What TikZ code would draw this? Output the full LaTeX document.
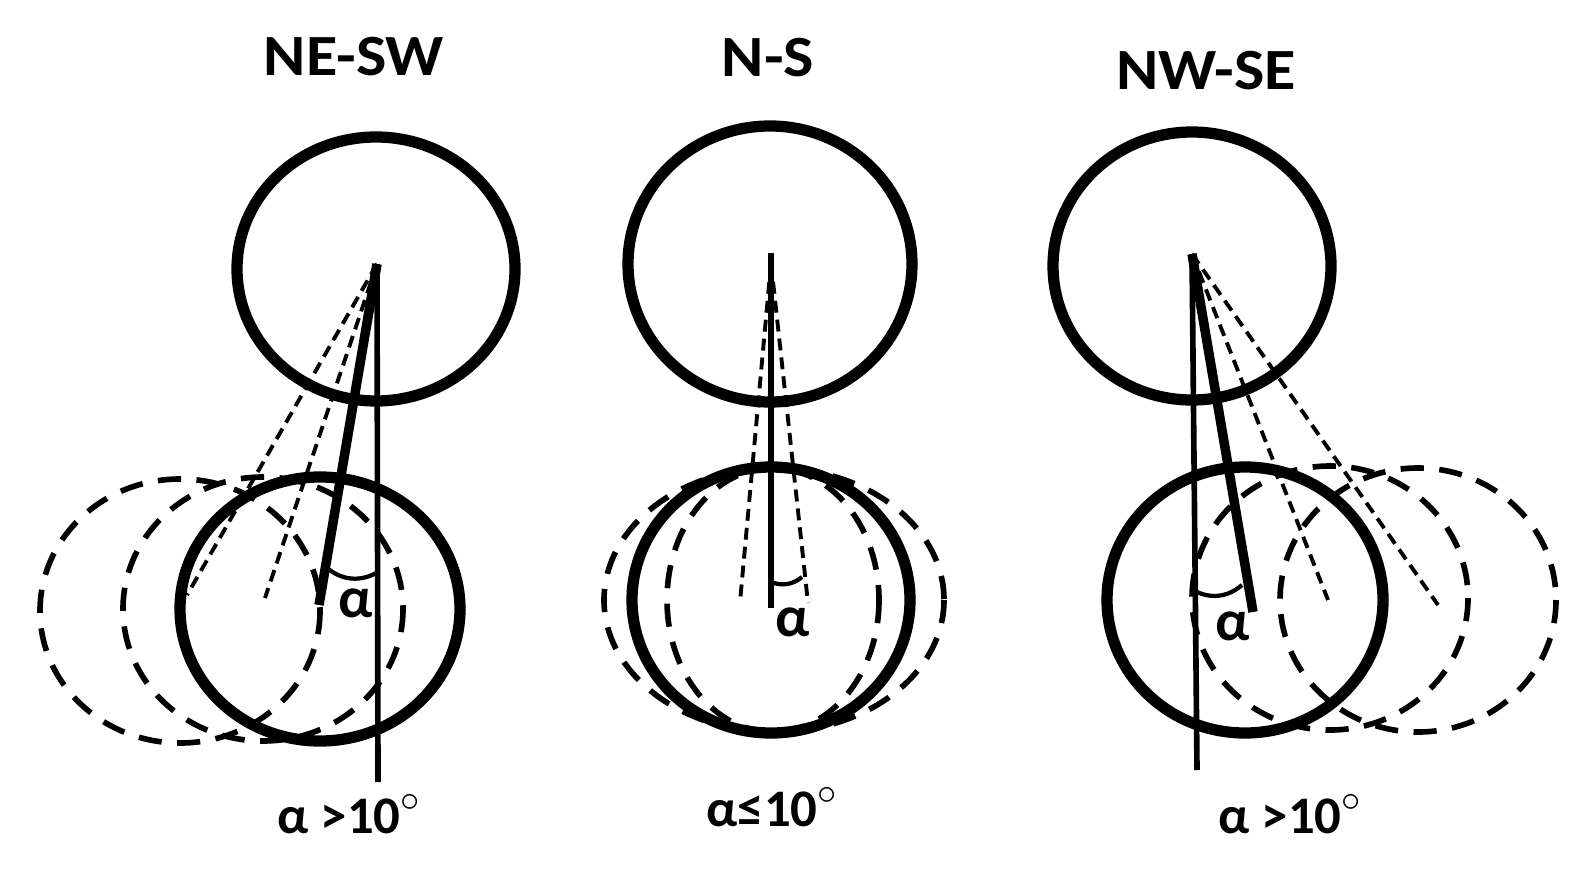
\documentclass[tikz,border=0pt]{standalone}
\usepackage{fontspec}
\setmainfont{Carlito}
\usetikzlibrary{calc}
\tikzset{
  eye/.style    = {line width=3.2pt},
  ghost/.style  = {line width=1.6pt,dash pattern=on 6.6pt off 4.4pt},
  axisline/.style = {line width=1.6pt},
  gaze/.style   = {line width=2.7pt},
  ray/.style    = {line width=1.1pt,dash pattern=on 3.4pt off 2pt},
  angarc/.style = {line width=1.2pt},
  ttl/.style    = {font=\fontsize{16.6}{20}\selectfont\bfseries,inner sep=0pt,
                   xscale=1.1},
  lbl/.style    = {font=\fontsize{15}{18}\selectfont\bfseries,inner sep=0pt},
  alph/.style   = {font=\fontsize{16.5}{18}\selectfont\bfseries,inner sep=0pt},
}
\newcommand{\degr}{\raisebox{1pt}{$^{\circ}$}}

\begin{document}
\begin{tikzpicture}[x=0.01cm,y=-0.01cm]
  \useasboundingbox (0,0) rectangle (1592,876);

  % titles
  \node[ttl] (tNESW) at (354,57) {NE-SW};
  \node[ttl] (tNS)   at (768,58) {N-S};
  \node[ttl] (tNWSE) at (1206,71) {NW-SE};

  % ---- NE-SW
  \coordinate (apexL) at (377,264);
  \coordinate (footL) at (378,782);
  \coordinate (tipL)  at (319,605);
  \coordinate (rayL1) at (187,595);
  \coordinate (rayL2) at (265,598);
  \coordinate (arcL1) at (327,568);
  \coordinate (arcL2) at (378,572);
  \draw[eye] (376,269) ellipse [x radius=139,y radius=132];
  \draw[eye] (320,609) ellipse [x radius=140,y radius=132];
  \draw[ghost] (263,609) ellipse [x radius=140,y radius=132];
  \draw[ghost] (180,611) ellipse [x radius=140,y radius=132];
  \draw[ray] (apexL) -- (rayL1);
  \draw[ray] (apexL) -- (rayL2);
  \draw[axisline] (apexL) -- (footL);
  \draw[gaze] (apexL) -- (tipL);
  \draw[angarc] (arcL1) to[bend right=35] (arcL2);
  \node[alph] (aL) at (356,603) {α};
  \node[lbl,anchor=base west] (cL) at (277,833) {α >10\degr};

  % ---- N-S
  \coordinate (apexM) at (771,253);
  \coordinate (footM) at (771,608);
  \coordinate (rayM1) at (740,602);
  \coordinate (rayM2) at (808,603);
  \coordinate (arcM1) at (771,582);
  \coordinate (arcM2) at (802,577);
  \draw[eye] (770,264) ellipse [x radius=142,y radius=138];
  \draw[eye] (771,600) ellipse [x radius=139,y radius=133];
  \draw[ghost] (774,600) ellipse [x radius=170,y radius=132];
  \draw[ghost] (773,600) ellipse [x radius=106,y radius=132];
  \draw[ray] ($(apexM)+(0,10)$) -- (rayM1);
  \draw[ray] ($(apexM)+(0,10)$) -- (rayM2);
  \draw[axisline,line width=1.8pt] (apexM) -- (footM);
  \draw[angarc] (arcM1) to[bend right=30] (arcM2);
  \node[alph] (aM) at (793,622) {α};
  \node[lbl,anchor=base west] (cM) at (706,826) {α≤10\degr};

  % ---- NW-SE
  \coordinate (apexR) at (1192,254);
  \coordinate (footR) at (1197,770);
  \coordinate (tipR)  at (1253,612);
  \coordinate (rayR1) at (1328,600);
  \coordinate (rayR2) at (1438,605);
  \coordinate (arcR1) at (1193,590);
  \coordinate (arcR2) at (1242,585);
  \draw[eye] (1192,266) ellipse [x radius=139,y radius=134];
  \draw[eye] (1245,600) ellipse [x radius=138,y radius=133];
  \draw[ghost] (1330,598) ellipse [x radius=138,y radius=132];
  \draw[ghost] (1418,600) ellipse [x radius=138,y radius=132];
  \draw[ray] (apexR) -- (rayR1);
  \draw[ray] (apexR) -- (rayR2);
  \draw[axisline] (apexR) -- (footR);
  \draw[gaze] (apexR) -- (tipR);
  \draw[angarc] (arcR1) to[bend right=35] (arcR2);
  \node[alph] (aR) at (1233,626) {α};
  \node[lbl,anchor=base west] (cR) at (1218,833) {α >10\degr};
\end{tikzpicture}
\end{document}
